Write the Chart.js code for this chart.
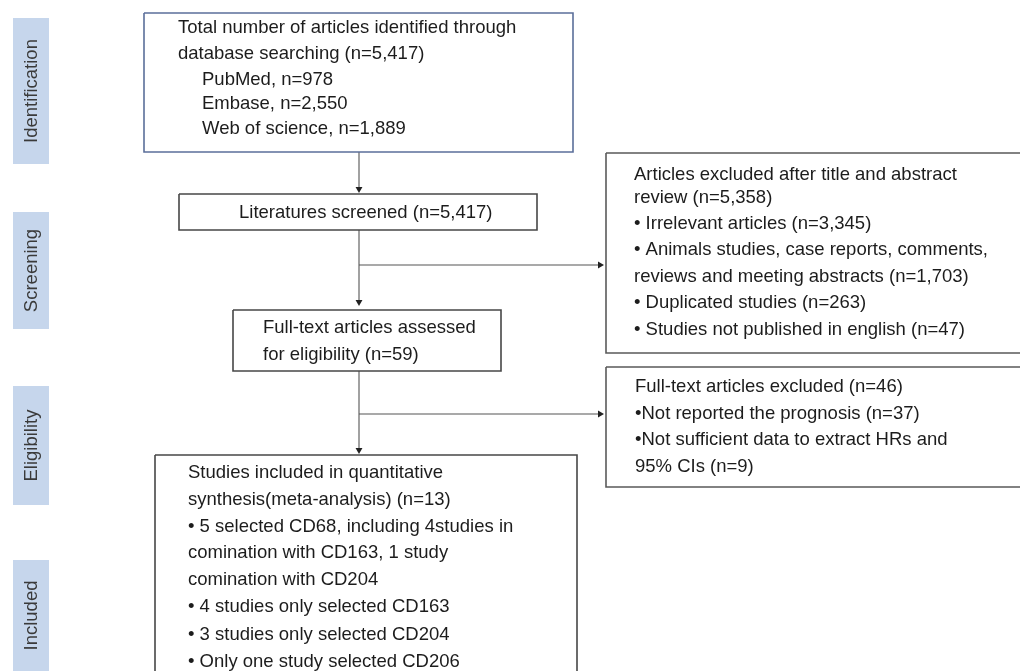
<!DOCTYPE html>
<html>
<head>
<meta charset="utf-8">
<script src="https://cdn.jsdelivr.net/npm/chart.js@4"></script>
<style>
  html, body { margin: 0; padding: 0; background: #fff; }
  #wrap { width: 1020px; height: 671px; position: relative; }
</style>
</head>
<body>
<div id="wrap"><canvas id="flow"></canvas></div>
<script>
// Stage bands on the left
const stages = ["Identification", "Screening", "Eligibility", "Included"];
const stageTop = [18, 212, 386, 560];
const stageBottom = [164, 329, 505, 671];

// Boxes: left, top, right, bottom (chart units = px)
const boxLeft = [144, 179, 233, 606, 606, 155];
const boxTop = [13, 194, 310, 153, 367, 455];
const boxRight = [573, 537, 501, 1030, 1030, 577];
const boxBottom = [152, 230, 371, 353, 487, 690];
const boxColor = ["#5b6f9a", "#474747", "#474747", "#5a5a5a", "#5a5a5a", "#474747"];

// Text inside each box
const boxText = [
  ["Total number of articles identified through", "database searching (n=5,417)",
   "   PubMed, n=978", "   Embase, n=2,550", "   Web of science, n=1,889"],
  ["Literatures screened (n=5,417)"],
  ["Full-text articles assessed", "for eligibility (n=59)"],
  ["Articles excluded after title and abstract", "review (n=5,358)",
   "\u2022 Irrelevant articles (n=3,345)", "\u2022 Animals studies, case reports, comments,",
   "reviews and meeting abstracts (n=1,703)", "\u2022 Duplicated studies (n=263)",
   "\u2022 Studies not published in english (n=47)"],
  ["Full-text articles excluded (n=46)", "\u2022Not reported the prognosis (n=37)",
   "\u2022Not sufficient data to extract HRs and", "95% CIs (n=9)"],
  ["Studies included in quantitative", "synthesis(meta-analysis) (n=13)",
   "\u2022 5 selected CD68, including 4studies in", "comination with CD163, 1 study",
   "comination with CD204", "\u2022 4 studies only selected CD163",
   "\u2022 3 studies only selected CD204", "\u2022 Only one study selected CD206"]
];
const textX = [178, 239, 263, 634, 635, 188];
const textY = [
  [28, 54, 80, 104, 129],
  [213],
  [328, 355],
  [175, 198, 224, 250, 277, 303, 330],
  [387, 414, 440, 467],
  [473, 500, 527, 553, 580, 607, 635, 662]
];

// Connectors: [x, y] paths, last point gets an arrow head
const links = [
  [[359, 152], [359, 193]],
  [[359, 230], [359, 306]],
  [[359, 265], [604, 265]],
  [[359, 371], [359, 454]],
  [[359, 414], [604, 414]]
];

const FONT = "18.5px 'Liberation Sans', Arial, sans-serif";
const HEAD = 4;

const datasets = [];

// stage bands as filled strips
stages.forEach((s, i) => {
  datasets.push({
    data: [{ x: 13, y: stageTop[i] }, { x: 49, y: stageTop[i] }],
    showLine: true,
    borderWidth: 0,
    borderColor: "rgba(0,0,0,0)",
    backgroundColor: "#c6d6ec",
    fill: { value: stageBottom[i] },
    pointRadius: 0
  });
});

// box outlines
boxLeft.forEach((l, i) => {
  const t = boxTop[i], r = boxRight[i], b = boxBottom[i];
  datasets.push({
    data: [{ x: l, y: t }, { x: r, y: t }, { x: r, y: b }, { x: l, y: b }, { x: l, y: t }],
    showLine: true,
    borderColor: boxColor[i],
    borderWidth: 1.6,
    fill: false,
    pointRadius: 0
  });
});

// connectors with arrow heads
links.forEach(path => {
  const last = path.length - 1;
  const [x1, y1] = path[last - 1];
  const [x2, y2] = path[last];
  const vertical = x1 === x2;
  const pts = path.map(([x, y], k) => {
    if (k !== last) return { x, y };
    return vertical ? { x, y: y - HEAD } : { x: x - HEAD, y };
  });
  datasets.push({
    data: pts,
    showLine: true,
    borderColor: "#555",
    borderWidth: 1.1,
    fill: false,
    pointStyle: "triangle",
    pointRadius: pts.map((p, k) => (k === last ? HEAD : 0)),
    pointRotation: vertical ? 180 : 90,
    pointBackgroundColor: "#222",
    pointBorderColor: "#222",
    pointBorderWidth: 0
  });
});

// text drawn through the scales
const labelPlugin = {
  id: "flowText",
  afterDatasetsDraw(chart) {
    const { ctx, scales } = chart;
    const xs = scales.x, ys = scales.y;
    ctx.save();
    ctx.font = FONT;
    ctx.textBaseline = "middle";
    ctx.fillStyle = "#1c1c1c";
    ctx.textAlign = "left";
    boxText.forEach((lines, i) => {
      lines.forEach((txt, j) => {
        let x = textX[i];
        let s = txt;
        if (s.startsWith("   ")) { x += 24; s = s.trim(); }
        ctx.fillText(s, xs.getPixelForValue(x), ys.getPixelForValue(textY[i][j]));
      });
    });
    ctx.fillStyle = "#3a3a3a";
    ctx.textAlign = "center";
    stages.forEach((s, i) => {
      const cx = xs.getPixelForValue(31);
      const cy = ys.getPixelForValue((stageTop[i] + stageBottom[i]) / 2);
      ctx.save();
      ctx.translate(cx, cy);
      ctx.rotate(-Math.PI / 2);
      ctx.fillText(s, 0, 1);
      ctx.restore();
    });
    ctx.restore();
  }
};

new Chart(document.getElementById("flow").getContext("2d"), {
  type: "scatter",
  data: { datasets },
  options: {
    responsive: true,
    maintainAspectRatio: false,
    animation: false,
    layout: { padding: 0, autoPadding: false },
    plugins: { legend: { display: false }, tooltip: { enabled: false } },
    elements: { line: { tension: 0 } },
    scales: {
      x: { type: "linear", min: 0, max: 1020, display: false },
      y: { type: "linear", min: 0, max: 671, reverse: true, display: false }
    }
  },
  plugins: [labelPlugin]
});
</script>
</body>
</html>
